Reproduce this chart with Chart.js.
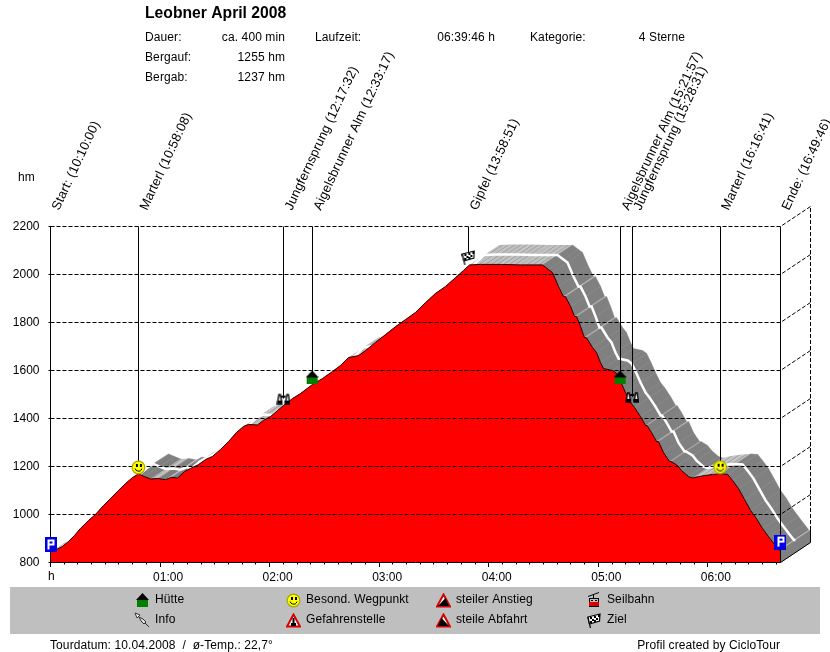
<!DOCTYPE html>
<html><head><meta charset="utf-8">
<style>html,body{margin:0;padding:0;background:#fff}canvas{display:block}</style>
<script src="https://cdn.jsdelivr.net/npm/chart.js@4"></script>
</head><body><canvas id="c" width="830" height="652"></canvas>
<script>
const titleText = 'Leobner April 2008';
const infoLabels = ['Dauer:','Bergauf:','Bergab:'];
const infoValues = ['ca. 400 min','1255 hm','1237 hm'];
const footerLeft = 'Tourdatum: 10.04.2008  /  ø-Temp.: 22,7°';
const footerRight = 'Profil created by CicloTour';
const tickLabels = {0:'h',60:'01:00',120:'02:00',180:'03:00',240:'04:00',300:'05:00',360:'06:00'};
const gridLevels = [800,1000,1200,1400,1600,1800,2000,2200];

const profileMinutes = [0,3.3,6.6,9.9,13.1,16.4,20.8,24.6,29,32.9,37.2,41.1,44.9,48.2,51.5,54.8,59.1,63,66.3,69.6,73.4,76.7,81.1,84.9,88.7,93.1,97.5,101.9,105.7,108.4,113.4,116.6,120.5,124.3,127.6,132.5,136.9,143.5,149,154.4,158.8,163.2,168.7,172.5,178,183.5,189,194.4,199.9,205.4,210.8,216.3,221.8,226.2,229.5,235.5,246.4,257.4,269.4,272.7,274.9,278.2,280.9,282,284.8,287,288.1,290.3,292.4,293.5,296.8,299,301.2,302.9,307.8,310,312.2,314.9,317.6,319.8,323.1,325.9,326.7,329.1,331.9,333,335.7,339,339.8,343.4,345.6,349.4,351.6,354.9,358.2,362.5,366.9,370.8,373.5,376.8,380.1,383.4,386.6,389.9,393.2,396.5,398.9,399.77];
const profileElevation = [844,854,867,888,912,942,975,1000,1037,1067,1100,1129,1154,1169,1158,1148,1150,1145,1155,1152,1179,1192,1208,1229,1242,1271,1304,1342,1367,1375,1373,1392,1408,1433,1454,1483,1504,1542,1567,1596,1621,1654,1662,1683,1717,1750,1783,1812,1842,1883,1921,1950,1987,2017,2040,2042,2042,2040,2040,2021,2008,1950,1908,1908,1867,1825,1825,1783,1737,1737,1696,1675,1633,1608,1600,1588,1554,1508,1467,1446,1408,1371,1371,1342,1304,1304,1258,1221,1221,1204,1183,1158,1152,1158,1162,1167,1169,1167,1142,1108,1062,1017,983,942,908,875,852,852];

const waypointLabels = ['Start: (10:10:00)','Marterl (10:58:08)','Jungfernsprung (12:17:32)','Aigelsbrunner Alm (12:33:17)','Gipfel (13:58:51)','Aigelsbrunner Alm (15:21:57)','Jungfernsprung (15:28:31)','Marterl (16:16:41)','Ende: (16:49:46)'];
const waypointMinutes = [0,48.13,127.53,143.28,228.85,311.95,318.52,366.68,399.77];
const waypointIconElevation = [873,1196,1483,1571,2071,1571,1490,1197,885];
const waypointIcons = ['park','smile','binoc','hut','flag','hut','binoc','smile','park'];

const legendEntries = [
 ['hut','Hütte',142,155,600],['pin','Info',142,155,620],
 ['smile','Besond. Wegpunkt',293,306,600],['danger','Gefahrenstelle',293,306,620],
 ['up','steiler Anstieg',443,456,600],['down','steile Abfahrt',443,456,620],
 ['cable','Seilbahn',594,607,600],['flag','Ziel',594,607,620]
];

const X_END = 399.77, DEPTH_MIN = 16.43, DEPTH_M = 83.33;
const FONT = '"Liberation Sans", Arial, sans-serif';

function icon(w,h,fn){const c=document.createElement('canvas');c.width=w;c.height=h;fn(c.getContext('2d'),w,h);return c;}
function tri(g,stroke,fill){g.beginPath();g.moveTo(7.5,1.5);g.lineTo(14,13.5);g.lineTo(1,13.5);g.closePath();g.fillStyle=fill;g.fill();g.lineWidth=2;g.strokeStyle=stroke;g.stroke();}
const icons = {
 park:icon(12,15,(g,w,h)=>{g.fillStyle='#0000e6';g.fillRect(0,0,w,h);g.fillStyle='#fff';g.fillRect(3,2,2,10);g.fillRect(3,2,6,2);g.fillRect(3,6,6,2);g.fillRect(8,2,2,6);}),
 smile:icon(15,15,g=>{g.beginPath();g.arc(7.5,7.5,6.3,0,7);g.fillStyle='#ffff00';g.fill();g.lineWidth=1.2;g.strokeStyle='#a8a800';g.stroke();g.fillStyle='#000';g.fillRect(5,4,2,3);g.fillRect(9,4,2,3);g.beginPath();g.arc(7.5,7.5,3.6,.3,2.85);g.lineWidth=1;g.strokeStyle='#000';g.stroke();}),
 hut:icon(13,14,g=>{g.fillStyle='#000';g.beginPath();g.moveTo(6.5,0);g.lineTo(13,7);g.lineTo(0,7);g.closePath();g.fill();g.fillStyle='#008000';g.fillRect(1,7,11,7);}),
 binoc:icon(14,12,g=>{g.strokeStyle='#000';g.lineWidth=1.4;g.fillStyle='#fff';[[1,5],[9,5]].forEach(([x])=>{g.beginPath();g.moveTo(x,11);g.lineTo(x+1.5,2);g.lineTo(x+3,2);g.lineTo(x+4.5,11);g.closePath();g.fill();g.stroke();});g.fillStyle='#000';g.fillRect(1,8,5,3);g.fillRect(8,8,5,3);g.fillRect(5,3,4,2);}),
 flag:icon(14,15,g=>{g.strokeStyle='#000';g.lineWidth=1.2;g.beginPath();g.moveTo(3.5,15);g.lineTo(.8,4);g.stroke();g.fillStyle='#fff';g.beginPath();g.moveTo(1,4);g.lineTo(13,1);g.lineTo(12.5,8);g.lineTo(2.5,11);g.closePath();g.fill();g.stroke();g.fillStyle='#000';[[3,4],[7,3],[11,2],[5,6],[9,5],[3,8],[7,7]].forEach(p=>g.fillRect(p[0],p[1],2,2));}),
 pin:icon(16,16,g=>{g.strokeStyle='#333';g.lineWidth=1;g.fillStyle='#fff';g.beginPath();g.moveTo(1,1);g.lineTo(6,3);g.lineTo(3,6);g.closePath();g.fill();g.stroke();g.beginPath();g.moveTo(5,5);g.lineTo(9,7);g.lineTo(12,10);g.lineTo(10,12);g.lineTo(7,9);g.closePath();g.fillStyle='#ddd';g.fill();g.stroke();g.beginPath();g.moveTo(11,11);g.lineTo(15,15);g.stroke();}),
 danger:icon(15,15,g=>{tri(g,'#d80000','#fff');g.fillStyle='#000';g.fillRect(6.5,5,2,5);g.fillRect(5,10,5,3);}),
 up:icon(15,15,g=>{tri(g,'#d80000','#fff');g.fillStyle='#000';g.beginPath();g.moveTo(2,13);g.lineTo(9.5,5);g.lineTo(13,13);g.closePath();g.fill();}),
 down:icon(15,15,g=>{tri(g,'#d80000','#fff');g.fillStyle='#000';g.beginPath();g.moveTo(13,13);g.lineTo(5.5,5);g.lineTo(2,13);g.closePath();g.fill();}),
 cable:icon(14,16,g=>{g.strokeStyle='#000';g.lineWidth=1;g.beginPath();g.moveTo(1,4.5);g.lineTo(12,.5);g.moveTo(6.5,3);g.lineTo(6.5,6);g.stroke();g.strokeRect(2.5,6.5,9,8);g.fillStyle='#d80000';g.fillRect(2,10,10,5);g.fillStyle='#000';g.fillRect(2,14,10,1);g.fillRect(4,8,2,1);g.fillRect(8,8,2,1);})
};

const hatchPattern = (()=>{const p=icon(6,4,g=>{g.fillStyle='#c0c0c0';g.fillRect(0,0,6,4);g.strokeStyle='#a0a0a0';g.lineWidth=1;g.beginPath();g.moveTo(0,4);g.lineTo(6,0);g.stroke();});return document.getElementById('c').getContext('2d').createPattern(p,'repeat');})();

const ribbonPlugin = {id:'ribbon',beforeDatasetsDraw(chart){
 const {ctx,scales:{x,y}}=chart;
 const P=(m,e)=>[x.getPixelForValue(m),y.getPixelForValue(e)];
 const quad=(a,b,c,d,col)=>{ctx.beginPath();ctx.moveTo(...a);ctx.lineTo(...b);ctx.lineTo(...c);ctx.lineTo(...d);ctx.closePath();ctx.fillStyle=col;ctx.strokeStyle=col;ctx.lineWidth=.5;ctx.fill();if(typeof col==='string')ctx.stroke();};
 ctx.save();
 for(let i=0;i<profileMinutes.length-1;i++){
  const m1=profileMinutes[i],m2=profileMinutes[i+1],e1=profileElevation[i],e2=profileElevation[i+1];
  const desc=(e1-e2)/(m2-m1)>0.4;
  quad(P(m1,e1),P(m2,e2),P(m2+DEPTH_MIN,e2+DEPTH_M),P(m1+DEPTH_MIN,e1+DEPTH_M),desc?'#808080':hatchPattern);
 }
 const last=profileElevation[profileElevation.length-1];
 quad(P(X_END,800),P(X_END+DEPTH_MIN,800+DEPTH_M),P(X_END+DEPTH_MIN,last+DEPTH_M),P(X_END,last),'#808080');
 ctx.restore();
},
 beforeDatasetDraw(chart,args){
  if(args.index!==0)return;
  const {ctx,scales:{x,y}}=chart;
  const sx=v=>Math.round(x.getPixelForValue(v)-.5)+.5;
  ctx.save();ctx.strokeStyle='#000';ctx.lineWidth=1;ctx.beginPath();
  waypointMinutes.forEach((m,i)=>{
   if(i===0)return;
   const endE=i===waypointMinutes.length-1?800:waypointIconElevation[i];
   ctx.moveTo(sx(m),y.getPixelForValue(2200));ctx.lineTo(sx(m),y.getPixelForValue(endE));
  });
  ctx.stroke();ctx.restore();
 }
};

const textPlugin = {id:'texts',beforeDraw(chart){
 const {ctx}=chart;ctx.save();ctx.fillStyle='#bfbfbf';ctx.fillRect(10,587,810,47);ctx.restore();
},afterDraw(chart){
 const {ctx,scales:{x,y}}=chart;
 ctx.save();
 ctx.fillStyle='#000';ctx.textBaseline='middle';ctx.textAlign='left';
 ctx.font='bold 15.7px '+FONT;ctx.fillText(titleText,145,13.5);
 ctx.font='12px '+FONT;ctx.letterSpacing='0.1px';
 infoLabels.forEach((t,i)=>ctx.fillText(t,145,38+20*i));
 ctx.fillText('Laufzeit:',315,38);ctx.fillText('Kategorie:',530,38);
 ctx.textAlign='right';
 infoValues.forEach((t,i)=>ctx.fillText(t,285,38+20*i));
 ctx.fillText('06:39:46 h',495,38);ctx.fillText('4 Sterne',685,38);
 ctx.textAlign='left';
 ctx.fillText('hm',18,178);
 ctx.fillText(footerLeft,50,646);
 ctx.textAlign='right';ctx.fillText(footerRight,780,646);
 ctx.textAlign='center';ctx.fillText(tickLabels[0],x.getPixelForValue(0)+1,577);
 ctx.fillStyle='#000';
 Object.keys(tickLabels).forEach(k=>{const px=Math.round(x.getPixelForValue(+k)-.5);ctx.fillRect(px,564,1,3);});
 ctx.textAlign='left';ctx.textBaseline='alphabetic';
 ctx.font='13px '+FONT;ctx.letterSpacing='0.15px';
 waypointLabels.forEach((t,i)=>{ctx.save();ctx.translate(x.getPixelForValue(waypointMinutes[i])+8.5,211);ctx.rotate(-65*Math.PI/180);ctx.fillText(t,0,0);ctx.restore();});
 ctx.font='12px '+FONT;ctx.letterSpacing='0.1px';
 ctx.textBaseline='middle';
 legendEntries.forEach(([ic,t,cx,tx,cy])=>{const c=icons[ic];ctx.drawImage(c,Math.round(cx-c.width/2),Math.round(cy-c.height/2));ctx.fillText(t,tx,cy);});
 ctx.restore();
}};

const depth = e=>({x:X_END+DEPTH_MIN,y:e+DEPTH_M});
const profilePoints = profileMinutes.map((m,i)=>({x:m,y:profileElevation[i]}));
const whitePoints = profileMinutes.map((m,i)=>({x:m+DEPTH_MIN/2,y:profileElevation[i]+DEPTH_M/2}));
const gridSets = gridLevels.map(v=>({data:[{x:0,y:v},{x:X_END,y:v},depth(v)],borderColor:'#000',borderWidth:1,borderDash:v===800?[]:[4,2],pointRadius:0,clip:false,fill:false,tension:0}));
const lastE=profileElevation[profileElevation.length-1];

new Chart(document.getElementById('c'),{
 type:'line',
 plugins:[ribbonPlugin,textPlugin],
 data:{datasets:[
  {data:waypointMinutes.map((m,i)=>({x:m,y:waypointIconElevation[i]})),showLine:false,pointRadius:6,pointStyle:waypointIcons.map(k=>icons[k]),clip:false},
  {data:[depth(800),depth(lastE)],borderColor:'#000',borderWidth:1,pointRadius:0,clip:false},
  {data:[depth(lastE),depth(2200)],borderColor:'#000',borderWidth:1,borderDash:[4,2],pointRadius:0,clip:false},
  ...gridSets,
  {data:profilePoints,borderColor:'#1a0000',borderWidth:1,backgroundColor:'#ff0000',fill:'origin',pointRadius:0,tension:0},
  {data:whitePoints,borderColor:'#ffffff',borderWidth:2.5,pointRadius:0,fill:false,clip:false,tension:0}
 ]},
 options:{
  responsive:false,animation:false,devicePixelRatio:1,
  layout:{padding:{top:226.5,right:19.5,bottom:0,left:0}},
  plugins:{legend:{display:false},tooltip:{enabled:false},title:{display:false}},
  scales:{
   x:{type:'linear',min:0,max:X_END+DEPTH_MIN,
      border:{display:false},
      grid:{drawOnChartArea:false,tickLength:2,tickColor:'#000'},
      afterBuildTicks(s){s.ticks=[];for(let k=0;k<=X_END;k+=7.5)s.ticks.push({value:k});},
      afterFit(s){s.height=89.5;},
      ticks:{autoSkip:false,maxRotation:0,minRotation:0,padding:6,labelOffset:8,color:'#000',font:{family:FONT,size:12},
        callback(v){return v!==0&&tickLabels[v]?tickLabels[v]:'';}}},
   y:{type:'linear',min:800,max:2200,
      border:{display:true,color:'#000'},
      grid:{drawOnChartArea:false,tickLength:2,tickColor:'#000'},
      afterFit(s){s.width=50.5;},
      ticks:{stepSize:200,padding:9,color:'#000',font:{family:FONT,size:12},callback(v){return String(v);}}}
  }
 }
});
</script></body></html>
